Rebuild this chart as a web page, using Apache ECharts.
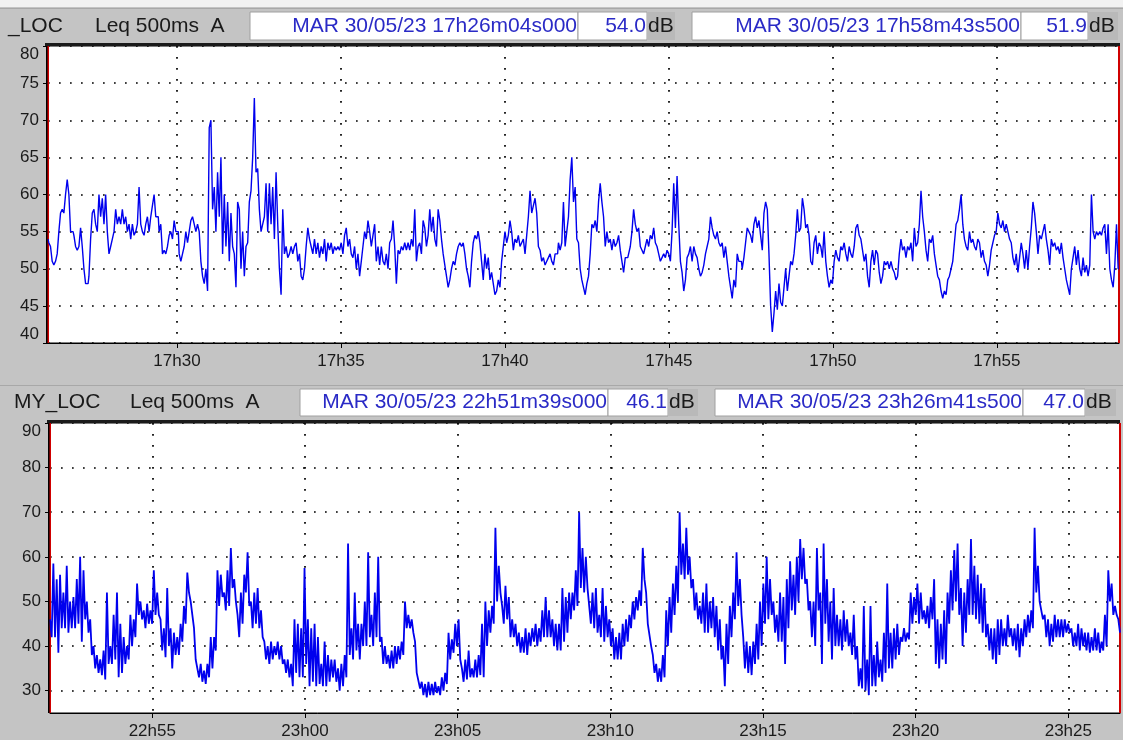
<!DOCTYPE html>
<html><head><meta charset="utf-8">
<script src="https://cdn.jsdelivr.net/npm/echarts@6/dist/echarts.min.js"></script>
<style>html,body{margin:0;padding:0;background:#c4c4c4;}#c{width:1123px;height:740px;}</style>
</head><body><div id="c"></div>
<script>
// ---------- DATA ----------
// Top panel: Leq 500ms A, equally spaced samples from topRange[0] to topRange[1]
const topRange = ['17:26:04.0', '17:58:43.5'];
const topLeq = [
54,53.5,53,51,50.5,51,52,55,57.5,58, 57.5,60,62,60,55,55,54.5,53,52.5,53,
55.5,53,50,48,48,49,54,57.5,58,56, 55,60,57,59.5,56,60,55,52,53,54,
55,58,56,57,56,58,56,57,55,56, 54,56,54.5,55,56,61,56,55,54.5,56,
57,55,57,58.5,60,57,57,55,56,52, 52.5,52,53,54.5,55,54,56.5,55,55,52,
51,52,53,55,53.5,55,56.5,57,56,55, 56,55,51,49,48,50,47,69,70,58,
61,55,63,57,65,52,60,53,59,51, 57.5,53,52,47.5,59,58,50,55,49,53,
53.5,59,60.5,65,73,63,63.5,58,55,56, 57,61.5,55,61.5,56,61,54,63,56,50,
46.5,58,52,53,51.5,52,53,52,53,53.5, 51,52,49,48.5,50,53,55.5,54,53,52,
54,52,53.5,51.5,53,52,54,51,53.5,52.5, 53.5,52,53,52.5,53,52.5,53.5,52,54.5,55.5,
53,54,52,51.5,53,50,52,49,51,53, 55,54,56.5,
55,53,54.5,56,51,53,50.5,53,51,50.5, 52,50,53.5,54,56.5,53,48,52.5,52,53,
52.5,53.5,52.5,53.5,52.5,54,53,58,51,53, 53.5,52,56.5,55.5,53,54.5,58,55,57,54,
53,58,56.5,54,52,50.5,49,47.5,48.5,50, 51,50.5,52,53,53.5,53,53.5,52,50,49,
47.5,51,53.5,54.5,54,55,53.5,51,48.5,52, 50,51.5,48.5,49.5,48,46.5,47,48.5,47.5,51,
53,55,53.5,54.5,56.5,55,52.5,54,53.5,54.5, 53,53.5,54,52,54.5,57,60.5,57.5,58.5,59.5,
57.5,53,52.5,51,51.5,50.5,51,51.5,52,51, 50.5,52,52,53.5,52.5,53.5,59,53,55,57,
62,65,59,61,54,53.5,50,48.5,47.5,46.5, 48,49,52,56,55.5,56.5,55,59,61.5,59,
57,53,55,53.5,54,52.5,54,53,53.5,54.5, 52.5,51,49.5,51.5,51.5,52,53,55,58,56,
55,55.5,53,52.5,52,53,54,53,54.5,54, 55.5,53.5,53,52,51,51.5,52,51.5,52.5,52,
51,55,61.5,55.5,62.5,56,51,49.5,47,48.5, 51.5,52,53,51,53,52,51.5,50,49,49.5,
50.5,52,53,54,57,55.5,54.5,54,55,53.5, 53,53.5,51.5,53,51,49,47.5,46,48.5,47.5,
52,51,
51,50,51.5,53.5,55.5,55,54.5,53.5,56,57, 55.5,56.5,54.5,52.5,57.5,59,58,52,45,41.5,
44,47,44.5,48,45.5,45,47.5,50,47,49, 51,50.5,52,54.5,58,55,55.5,59.5,58,55.5,
56,54.5,51,50.5,53.5,54.5,52,53.5,53,51.5, 55,51,49,47.5,48.5,48,51,52.5,51.5,51,
53,52.5,53.5,52,51,53,52,51.5,53,55.5, 56,54.5,54,52.5,51,52,49,47.5,51,52.5,
50.5,52.5,52,49.5,48,49,51,50.5,51,50, 51,50,49.5,48.5,49,52,54,52.5,53,51.5,
53,52.5,53.5,51,55.5,53,53.5,56,60.5,57, 55,52.5,51,54,53.5,54.5,52,50.5,49,48.5,
47,46,47,46.5,48.5,49,50,51,53.5,56, 56.5,58,60,56,54,53,52.5,55,53.5,54,
53,52.5,54,53.5,51.5,52.5,51,50.5,49,50.5, 52.5,53.5,54.5,55,57.5,56,55.5,56.5,55,56,
55,54,53.5,51.5,50.5,52,49.5,51.5,53.5,52, 50,52.5,50,53,55.5,59,57.5,55,52,54.5,
54,55,56,54,52.5,50.5,54,53,53.5,52.5, 53,52,53.5,51.5,50,48.5,47.5,46.5,50,51.5,
53,50.5,52.5,50,49,51.5,49.5,50.5,49,50.5, 60,55,54,55,54.5,55,54.5,55.5,56,52,
56,50,48.5,47.5,50.5,56,50
];

// Bottom panel: per sample bin, the high and the low of the trace
const bottomRange = ['22:51:39.0', '23:26:41.5'];
const bottomHigh = [
46,58.5,55,56,52,58,50,51,55,60, 57,50,46,40,38,37,39,52,40,47,
52,45,42,40,47,46,54,50,48,49.5, 48,57,52,46,44,53,44,43,42,45,
49,56.5,50,44,37,36,34.5,36,42,42, 57,56,52,57,62,55,47,52,56,61,
50,52,53,48,41,40,41,40,41,40, 37,37,36,46,45,44,57.5,46,44,45,
42,36,41,38,37,37,35,36,38,63, 44,52,45,45,50,61,
47,52,60,42,40,38,39,40,40,41, 50,47,46,41,34,32,31.5,32,31.5,32,
31,33,34,43,41.5,45,46,35,37,39, 35,37,38,45,50,48,49,66.5,58,49,
53.5,51,46,45,43,42,44,43,44,45, 44,48,51,48,46,45,45,53,51,52,
52,57,70,62,60,53,52,53,47,53, 49,46,44,42,43,45,46,47,50,51,
52.5,62,52,45,38,36,35,38,48,51, 54,58,70,63,66.5,60,55,52,49,52,
54,50,51,49,46,40,45,49,52,61, 55,
42,41,40,41,45,50,54,60,55,50, 47,52,51,55,59,56,60,64,62,55,
50,50,62,52,63,55,50,53,47,46, 48,46,43,47,40,35,49,37,49,38,
41,37,43,54,43,44,45,42,44,43, 52,51,54,52,48,49,51,55,46,45,
48,52,57,61.5,63,53,52,55,64,58, 56,54,53,45,44,44,46,46,44,47,
44,44,45,44,46,47,48,66.5,58,50, 47,46,45,47,46,46,46,45,44,43,
45,44,43,43,42,44,43,41,47,57, 54,49,46
];
const bottomLow = [
42,42,38.5,44,44,43,44,44,45,41, 46,43,38,35,34,33.5,32.5,36,36,37,
33,34,36,37,40,42,47,46,44,45, 45,47,47,39,37.5,40,35,38,38,41,
45,52,47,37,33,32,31.5,33,35,39, 49,51,48,49,53,50,42,45,52,49,
44,45,44,42,37,36,37,38,37,36, 34,33,31,34,33,33,36,31,32,31,
31.5,31,31,32,33,32,30,31,33,38, 37,39,37,40,40,42,
40,42,41,36,36,35,35,36,37,38, 44,44,43,34,30.5,29,28.5,29,29,29.5,
29,30,31.5,37,38.5,40,37,32,32.5,33, 33,33,33.5,33,40,43,45,50,52,45,
46,42,42,40,38.5,38.5,38,40,41,40, 41,42,42,42,40,39,39,41,43,46,
48,49,53,52,53,45,44,43,42,41, 42,40,37,37,37,40,41,44,46,48,
49,55,45,40,34,32,32,33,40,43, 47,50,56,55,56,53,48,46,45,43,
43,44,42,39,37,31,36,42,46,49, 47,
35,34,33.5,36,37,40,45,46,47,43, 41,41,36,44,48,47,50,55,54,48,
42,40,48,36,45,41,37,40,40,39, 41,40,38,37,31,30.5,30,29,31,31,
33,32,34,35,35,37,38,41,41,41.5, 45,47,45,46,45,44,46,36,35,37,
36,45,48,50,47,40,43,47,47,46, 45,43,42,39,37,36,38,40,40,42,
40,39,37.5,40,42,43,44,52,50,46, 42,40,41,42,42,42,43,43,40,40,
39,40,39,38.5,39,39,38.5,39,40,50, 47,47,43
];

// Axis tick labels
const topTimeTicks = ['17h30','17h35','17h40','17h45','17h50','17h55'];
const bottomTimeTicks = ['22h55','23h00','23h05','23h10','23h15','23h20','23h25'];
const topYTicks = [40,45,50,55,60,65,70,75,80];
const bottomYTicks = [30,40,50,60,70,80,90];

// Header texts
const topHeaderTexts = ['_LOC', 'Leq 500ms  A', 'MAR 30/05/23 17h26m04s000', '54.0', 'MAR 30/05/23 17h58m43s500', '51.9'];
const bottomHeaderTexts = ['MY_LOC', 'Leq 500ms  A', 'MAR 30/05/23 22h51m39s000', '46.1', 'MAR 30/05/23 23h26m41s500', '47.0'];

// ---------- helpers ----------
function toSec(s) { const p = s.split(':'); return +p[0]*3600 + +p[1]*60 + parseFloat(p[2]); }
function tickSec(s) { const p = s.split('h'); return +p[0]*3600 + +p[1]*60; }
function fmtTick(v) { const h = Math.floor(v/3600), m = Math.round((v - h*3600)/60); return String(h).padStart(2,'0') + 'h' + String(m).padStart(2,'0'); }

const tS = toSec(topRange[0]), tE = toSec(topRange[1]);
const topData = topLeq.map((v, i) => [tS + i*(tE - tS)/(topLeq.length - 1), v]);
const bS = toSec(bottomRange[0]), bE = toSec(bottomRange[1]);
const bottomSeq = [];
bottomHigh.forEach((h, i) => { bottomSeq.push(h); bottomSeq.push(bottomLow[i]); });
const bottomData = bottomSeq.map((v, i) => [bS + i*(bE - bS)/(bottomSeq.length - 1), v]);

const FONT = '"Liberation Sans", Arial, sans-serif';
const LABEL = '#1a1a1a', BLUE = '#2a2ac6', LINE = '#0000ee', GRAY = '#c4c4c4', DBGRAY = '#b9b9b9';
const dotted = { color: '#000', width: 1.7, type: [1.7, 9.3] };

function header(y, h, texts, pos) {
  const cy = y + h/2, els = [];
  els.push({ type:'rect', shape:{x:0,y:y-4,width:1123,height:h+7}, style:{fill:GRAY}, z:1 });
  els.push({ type:'rect', shape:{x:0,y:y-4,width:1123,height:1}, style:{fill:'#a8a8a8'}, z:2 });
  els.push({ type:'text', x:pos.name, y:cy, style:{text:texts[0], fill:LABEL, font:'21px '+FONT, verticalAlign:'middle'}, z:3 });
  els.push({ type:'text', x:pos.metric, y:cy, style:{text:texts[1], fill:LABEL, font:'21px '+FONT, verticalAlign:'middle'}, z:3 });
  const boxes = [[pos.b1, pos.v1, texts[2]], [pos.v1, pos.d1, texts[3]], [pos.b2, pos.v2, texts[4]], [pos.v2, pos.d2, texts[5]]];
  boxes.forEach(b => {
    els.push({ type:'rect', shape:{x:b[0],y:y,width:b[1]-b[0],height:h}, style:{fill:'#fff', stroke:'#a0a0a0', lineWidth:1}, z:2 });
    els.push({ type:'text', x:b[1]-1, y:cy, style:{text:b[2], fill:BLUE, font:'21px '+FONT, align:'right', verticalAlign:'middle'}, z:3 });
  });
  [[pos.d1, pos.e1], [pos.d2, pos.e2]].forEach(d => {
    els.push({ type:'rect', shape:{x:d[0],y:y,width:d[1]-d[0],height:h}, style:{fill:DBGRAY}, z:2 });
    els.push({ type:'text', x:d[0]+1, y:cy, style:{text:'dB', fill:LABEL, font:'21px '+FONT, verticalAlign:'middle'}, z:3 });
  });
  return els;
}

const graphics = [].concat(
  [{ type:'rect', shape:{x:0,y:0,width:1123,height:7}, style:{fill:'#f2f2f2'}, z:0 }],
  header(12, 28, topHeaderTexts, {name:8, metric:95, b1:250, v1:578, d1:647, e1:675, b2:692, v2:1021, d2:1088, e2:1118}),
  header(389, 27, bottomHeaderTexts, {name:14, metric:130, b1:300, v1:608, d1:668, e1:698, b2:715, v2:1023, d2:1085, e2:1116}),
  [
    { type:'rect', shape:{x:45,y:43,width:1075,height:3}, style:{fill:'#1a1a1a'}, z:10 },
    { type:'rect', shape:{x:47,y:420,width:1073,height:3}, style:{fill:'#1a1a1a'}, z:10 },
    { type:'rect', shape:{x:46,y:46,width:1.5,height:297}, style:{fill:'#000'}, z:10 },
    { type:'rect', shape:{x:48,y:423,width:1.5,height:290}, style:{fill:'#000'}, z:10 }
  ]
);

function xAxis(gi, s, e, ticks) {
  const vals = ticks.map(tickSec);
  return {
    type:'value', gridIndex:gi, min:s, max:e, scale:true,
    axisLine:{show:true, lineStyle:{color:'#000', width:1}},
    axisTick:{show:true, length:5, lineStyle:{color:'#000'}, customValues:vals},
    axisLabel:{show:true, customValues:vals, formatter:fmtTick, color:LABEL, fontSize:17, fontFamily:FONT, margin:10},
    splitLine:{show:true, lineStyle:dotted}
  };
}

function yAxis(gi, min, max, ticks, extra, labelExtra) {
  return Object.assign({ type:'value', gridIndex:gi, min:min, max:max,
    axisLine:{show:true, lineStyle:{color:'#000'}},
    axisTick:{show:true, length:5, lineStyle:{color:'#000'}, customValues:ticks},
    axisLabel:Object.assign({show:true, customValues:ticks, color:LABEL, fontSize:17, fontFamily:FONT, margin:9,
      verticalAlignMaxLabel:'top'}, labelExtra || {}),
    splitLine:{show:true, lineStyle:dotted} }, extra || {});
}

const option = {
  animation:false,
  backgroundColor:GRAY,
  textStyle:{fontFamily:FONT},
  graphic:{elements:graphics},
  grid:[
    {left:48, right:4, top:46, bottom:397, show:true, backgroundColor:'#fff', borderColor:'#000', borderWidth:1, containLabel:false, outerBoundsMode:'none'},
    {left:50, right:3, top:423, bottom:27, show:true, backgroundColor:'#fff', borderColor:'#000', borderWidth:1, containLabel:false, outerBoundsMode:'none'}
  ],
  xAxis:[ xAxis(0, tS, tE, topTimeTicks), xAxis(1, bS, bE, bottomTimeTicks) ],
  yAxis:[ yAxis(0, 40, 80, topYTicks, {interval:5}, {verticalAlignMinLabel:'bottom'}), yAxis(1, 25, 90, bottomYTicks) ],
  series:[
    { type:'line', xAxisIndex:0, yAxisIndex:0, data:topData, showSymbol:false, symbol:'none', step:'middle',
      lineStyle:{color:LINE, width:1.4}, z:5, clip:true,
      markLine:{silent:true, symbol:['none','none'], label:{show:false}, lineStyle:{color:'#d00000', width:2, type:'solid'},
        data:[{xAxis:tS},{xAxis:tE}]} },
    { type:'line', xAxisIndex:1, yAxisIndex:1, data:bottomData, showSymbol:false, symbol:'none',
      lineStyle:{color:LINE, width:1.8}, z:5, clip:true,
      markLine:{silent:true, symbol:['none','none'], label:{show:false}, lineStyle:{color:'#d00000', width:2, type:'solid'},
        data:[{xAxis:bS},{xAxis:bE}]} }
  ]
};
const chart = echarts.init(document.getElementById('c'), null, {renderer:'canvas'});
chart.setOption(option);
</script></body></html>
